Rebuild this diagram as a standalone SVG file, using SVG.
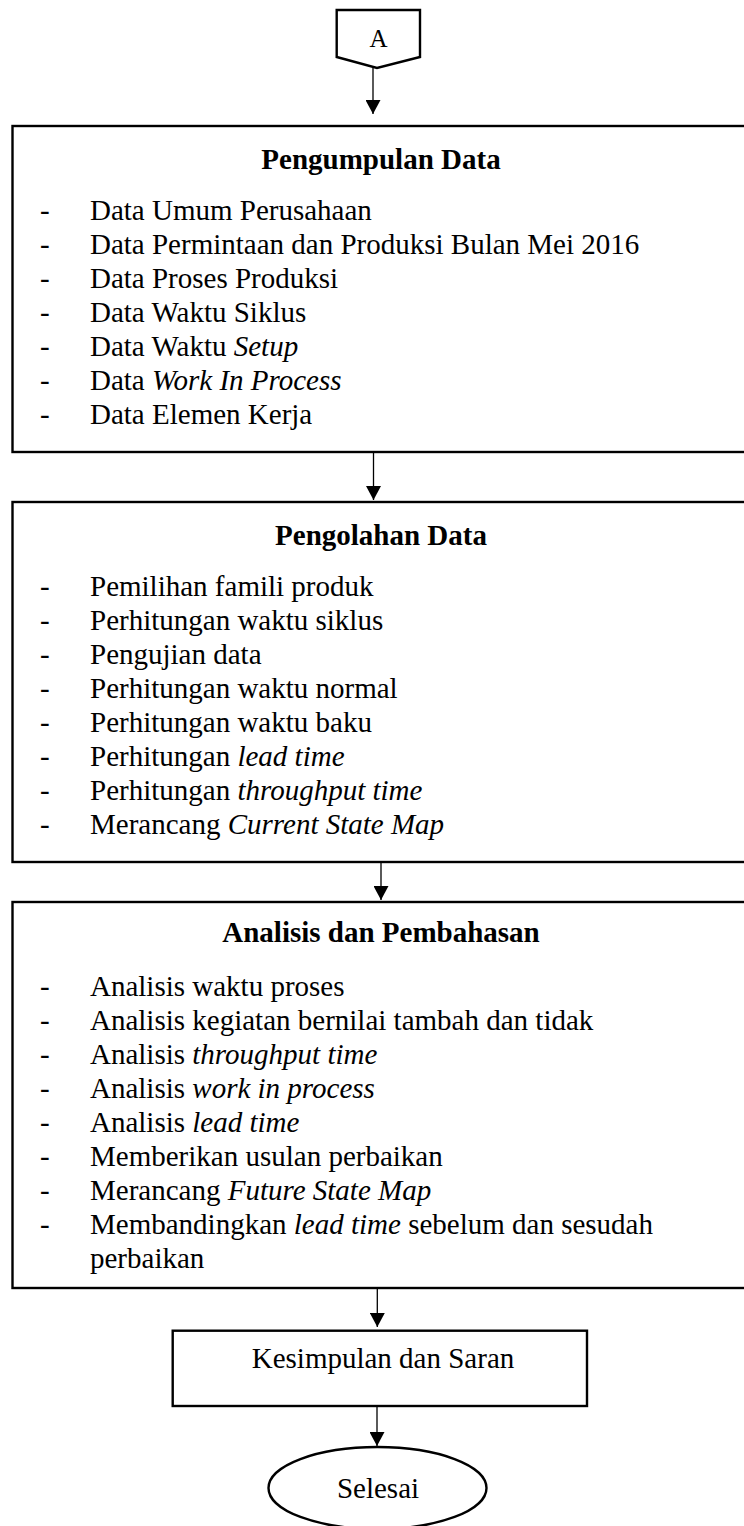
<svg xmlns="http://www.w3.org/2000/svg" width="744" height="1526" viewBox="0 0 744 1526">
<style>
.box{fill:#fff;stroke:#000;stroke-width:2.4}
.t{font-family:"Liberation Serif","Times New Roman",serif;font-size:29px;fill:#000}
.b{font-weight:bold}
.c{text-anchor:middle}
.conn{stroke:#000;stroke-width:1.3;fill:none}
</style>
<defs>
<marker id="ah" viewBox="0 0 14 15" refX="14" refY="7.5" markerWidth="14" markerHeight="15" markerUnits="userSpaceOnUse" orient="auto">
<path d="M0,0 L14,7.5 L0,15 z" fill="#000"/>
</marker>
</defs>
<rect width="744" height="1526" fill="#fff"/>
<g id="connectors">
<line class="conn" x1="373" y1="68" x2="373" y2="114" marker-end="url(#ah)"/>
<line class="conn" x1="373.5" y1="452" x2="373.5" y2="500" marker-end="url(#ah)"/>
<line class="conn" x1="381" y1="862" x2="381" y2="900" marker-end="url(#ah)"/>
<line class="conn" x1="377.3" y1="1288" x2="377.3" y2="1327" marker-end="url(#ah)"/>
<line class="conn" x1="377" y1="1406" x2="377" y2="1446" marker-end="url(#ah)"/>
</g>
<g id="nodeA">
<polygon class="box" stroke-width="1.6" points="336.7,10 420,10 420,57 377,68 336.7,57"/>
<text class="t c" x="378.5" y="46.5" style="font-size:25px">A</text>
</g>
<g id="pengumpulan">
<rect class="box" x="12.5" y="126" width="760" height="326"/>
<text class="t b c" x="381" y="169">Pengumpulan Data</text>
<g class="t">
<text x="40" y="220">-</text><text x="90" y="220">Data Umum Perusahaan</text>
<text x="40" y="254">-</text><text x="90" y="254">Data Permintaan dan Produksi Bulan Mei 2016</text>
<text x="40" y="288">-</text><text x="90" y="288">Data Proses Produksi</text>
<text x="40" y="322">-</text><text x="90" y="322">Data Waktu Siklus</text>
<text x="40" y="356">-</text><text x="90" y="356">Data Waktu <tspan font-style="italic">Setup</tspan></text>
<text x="40" y="390">-</text><text x="90" y="390">Data <tspan font-style="italic">Work In Process</tspan></text>
<text x="40" y="424">-</text><text x="90" y="424">Data Elemen Kerja</text>
</g>
</g>
<g id="pengolahan">
<rect class="box" x="12.5" y="502" width="760" height="360"/>
<text class="t b c" x="381" y="545">Pengolahan Data</text>
<g class="t">
<text x="40" y="596">-</text><text x="90" y="596">Pemilihan famili produk</text>
<text x="40" y="630">-</text><text x="90" y="630">Perhitungan waktu siklus</text>
<text x="40" y="664">-</text><text x="90" y="664">Pengujian data</text>
<text x="40" y="698">-</text><text x="90" y="698">Perhitungan waktu normal</text>
<text x="40" y="732">-</text><text x="90" y="732">Perhitungan waktu baku</text>
<text x="40" y="766">-</text><text x="90" y="766">Perhitungan <tspan font-style="italic">lead time</tspan></text>
<text x="40" y="800">-</text><text x="90" y="800">Perhitungan <tspan font-style="italic">throughput time</tspan></text>
<text x="40" y="834">-</text><text x="90" y="834">Merancang <tspan font-style="italic">Current State Map</tspan></text>
</g>
</g>
<g id="analisis">
<rect class="box" x="12.5" y="902" width="760" height="386"/>
<text class="t b c" x="381" y="942">Analisis dan Pembahasan</text>
<g class="t">
<text x="40" y="996">-</text><text x="90" y="996">Analisis waktu proses</text>
<text x="40" y="1030">-</text><text x="90" y="1030">Analisis kegiatan bernilai tambah dan tidak</text>
<text x="40" y="1064">-</text><text x="90" y="1064">Analisis <tspan font-style="italic">throughput time</tspan></text>
<text x="40" y="1098">-</text><text x="90" y="1098">Analisis <tspan font-style="italic">work in process</tspan></text>
<text x="40" y="1132">-</text><text x="90" y="1132">Analisis <tspan font-style="italic">lead time</tspan></text>
<text x="40" y="1166">-</text><text x="90" y="1166">Memberikan usulan perbaikan</text>
<text x="40" y="1200">-</text><text x="90" y="1200">Merancang <tspan font-style="italic">Future State Map</tspan></text>
<text x="40" y="1234">-</text><text x="90" y="1234">Membandingkan <tspan font-style="italic">lead time</tspan> sebelum dan sesudah</text>
<text x="90" y="1268">perbaikan</text>
</g>
</g>
<g id="kesimpulan">
<rect class="box" x="172.7" y="1330.7" width="414.3" height="75.3"/>
<text class="t c" x="383" y="1368">Kesimpulan dan Saran</text>
</g>
<g id="selesai">
<ellipse class="box" cx="377.5" cy="1488" rx="109" ry="41"/>
<text class="t c" x="378" y="1498">Selesai</text>
</g>
</svg>
